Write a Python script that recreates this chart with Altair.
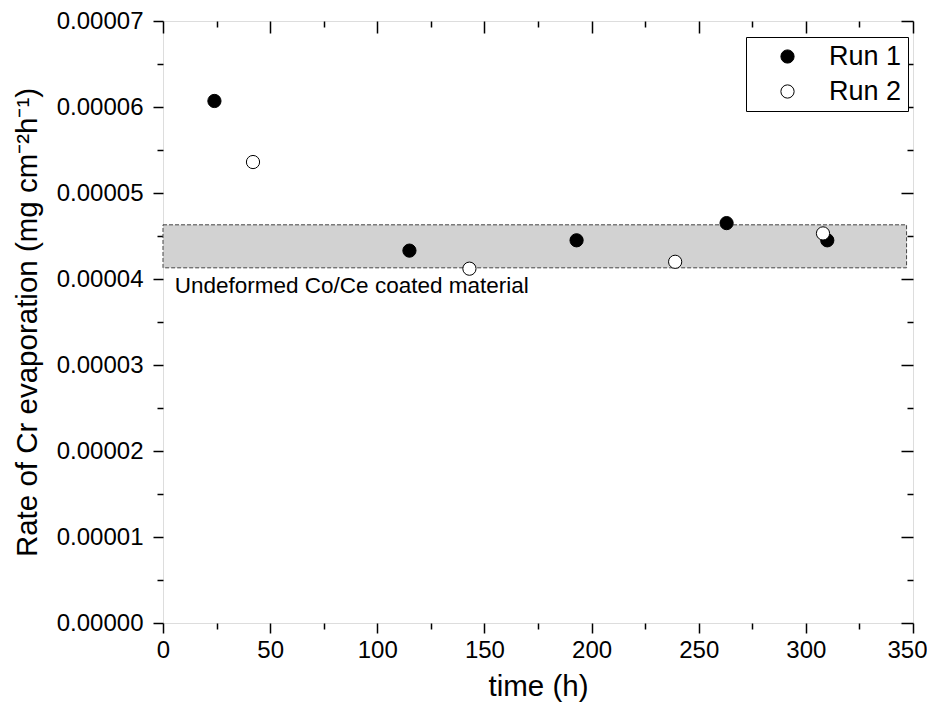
import altair as alt
import pandas as pd

# ---- data ----
run1_time = [24, 115, 193, 263, 310]
run1_rate = [6.07e-5, 4.33e-5, 4.45e-5, 4.65e-5, 4.45e-5]
run2_time = [42, 143, 239, 308]
run2_rate = [5.36e-5, 4.12e-5, 4.20e-5, 4.53e-5]

band_time = [0, 347]
band_rate = [4.13e-5, 4.63e-5]
band_label = "Undeformed Co/Ce coated material"
label_time = [5.5]
label_rate = [3.84e-5]

x_major = [0, 50, 100, 150, 200, 250, 300, 350]
x_minor = [25, 75, 125, 175, 225, 275, 325]
y_major = [0.0, 0.00001, 0.00002, 0.00003, 0.00004, 0.00005, 0.00006, 0.00007]
y_minor = [0.000005, 0.000015, 0.000025, 0.000035, 0.000045, 0.000055, 0.000065]

FONT = "Liberation Sans"

pts_df = pd.DataFrame({
    "time": run1_time + run2_time,
    "rate": run1_rate + run2_rate,
    "series": ["Run 1"] * len(run1_time) + ["Run 2"] * len(run2_time),
})
band_df = pd.DataFrame({"x0": [band_time[0]], "x1": [band_time[1]],
                        "y0": [band_rate[0]], "y1": [band_rate[1]]})
label_df = pd.DataFrame({"time": label_time, "rate": label_rate, "text": [band_label]})

xs = alt.Scale(domain=[0, 350], nice=False, zero=False)
ys = alt.Scale(domain=[0, 0.00007], nice=False, zero=False)


def tick_axis(orient, values, size, inward):
    kw = dict(orient=orient, values=values, tickSize=size, labels=False, domain=False,
              grid=False, title=None, tickColor="black", tickWidth=1.5)
    if inward:
        kw["offset"] = -size
    return alt.Axis(**kw)


band = alt.Chart(band_df).mark_rect(
    fill="#d2d2d2", stroke="#444444", strokeDash=[4, 2], strokeWidth=1
).encode(
    x=alt.X("x0:Q", scale=xs, axis=alt.Axis(
        orient="bottom", values=x_major, tickSize=10, tickWidth=1.5, tickColor="black",
        domain=False, grid=False, labelFontSize=24, labelFont=FONT, labelColor="black",
        labelPadding=5, labelOffset={"expr": "datum.value == 350 ? -6 : 0"},
        title="time (h)", titleFontSize=29.5, titleFont=FONT,
        titleFontWeight="normal", titleColor="black", titlePadding=10, labelFlush=False)),
    x2="x1:Q",
    y=alt.Y("y0:Q", scale=ys, axis=alt.Axis(
        orient="left", values=y_major, format=".5f", tickSize=10, tickWidth=1.5,
        tickColor="black", domain=False, grid=False, labelFontSize=24, labelFont=FONT,
        labelColor="black", labelPadding=10, title="Rate of Cr evaporation (mg cm⁻²h⁻¹)",
        titleFontSize=29.5, titleFont=FONT, titleFontWeight="normal", titleColor="black",
        titlePadding=14, labelFlush=False)),
    y2="y1:Q",
)


def axis_layer(xaxis, yaxis):
    return alt.Chart(band_df).mark_point(opacity=0).encode(
        x=alt.X("x0:Q", scale=xs, axis=xaxis),
        y=alt.Y("y0:Q", scale=ys, axis=yaxis),
    )


minor_out = axis_layer(tick_axis("bottom", x_minor, 6, False), tick_axis("left", y_minor, 6, False))
major_in = axis_layer(tick_axis("top", x_major, 12, True), tick_axis("right", y_major, 12, True))
minor_in = axis_layer(tick_axis("top", x_minor, 6, True), tick_axis("right", y_minor, 6, True))

text = alt.Chart(label_df).mark_text(
    align="left", baseline="alphabetic", fontSize=22.5, font=FONT, color="black"
).encode(
    x=alt.X("time:Q", scale=xs, axis=None),
    y=alt.Y("rate:Q", scale=ys, axis=None),
    text="text:N",
)

points = alt.Chart(pts_df).mark_point(
    shape="circle", filled=True, size=175, stroke="black", strokeWidth=1, opacity=1
).encode(
    x=alt.X("time:Q", scale=xs, axis=None),
    y=alt.Y("rate:Q", scale=ys, axis=None),
    fill=alt.Fill("series:N", scale=alt.Scale(domain=["Run 1", "Run 2"], range=["black", "white"]),
                  legend=alt.Legend(title=None, orient="none", legendX=583, legendY=16,
                                    strokeColor="black", fillColor="white", padding=6,
                                    labelFontSize=27, labelFont=FONT, labelColor="black",
                                    symbolSize=175, symbolType="circle",
                                    symbolStrokeColor="black", symbolStrokeWidth=1,
                                    symbolOffset=22, labelOffset=28, rowPadding=7)),
)

chart = alt.layer(band, minor_out, major_in, minor_in, text, points).resolve_axis(
    x="independent", y="independent"
).properties(
    width=750, height=602,
    padding={"left": 155, "top": 13, "right": 14, "bottom": 84},
    autosize=alt.AutoSizeParams(type="none"),
).configure_view(
    stroke="black", strokeWidth=1.5
).configure(background="white")

chart.save("out.html", embed_options={"renderer": "svg", "actions": False})
